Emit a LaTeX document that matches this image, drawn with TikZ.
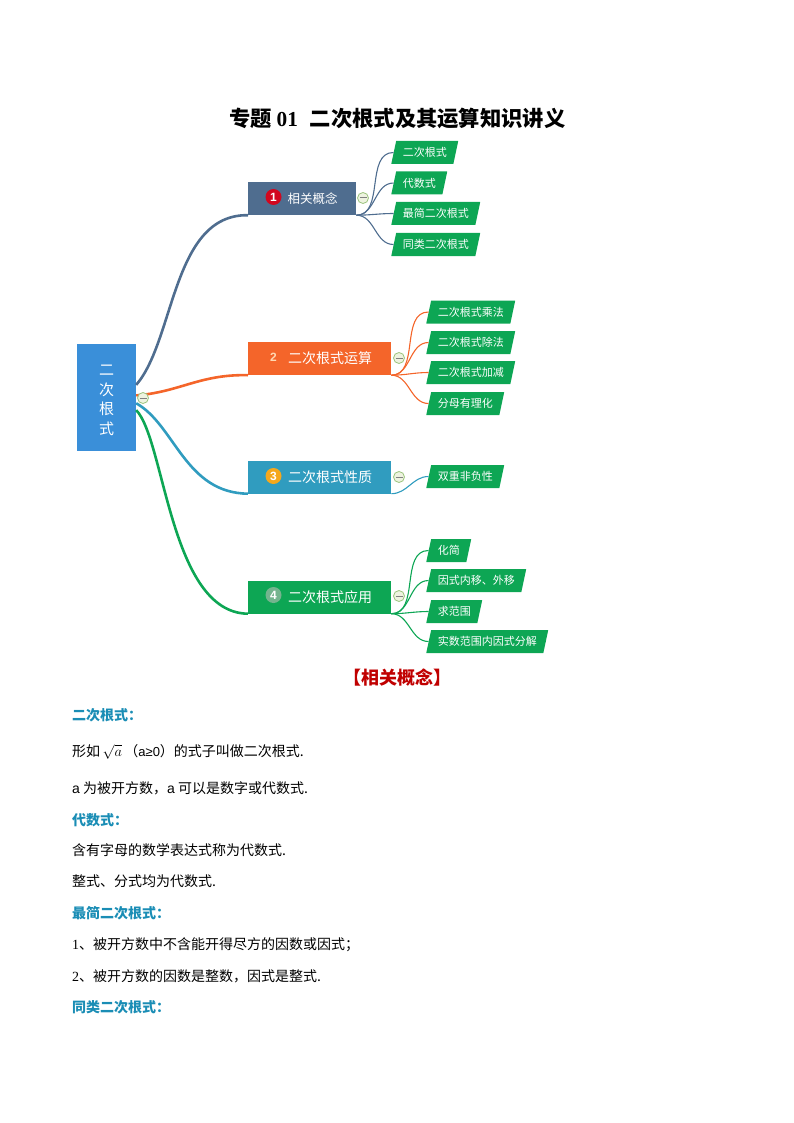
\documentclass[tikz,border=0pt]{standalone}
\usepackage{fontspec}
\usepackage{xcolor}
\setmainfont{Noto Sans CJK SC}
\newfontfamily\latinserif{Liberation Serif}
\newfontfamily\latinsans{Liberation Sans}
\usetikzlibrary{shapes.geometric}
\definecolor{rootblue}{HTML}{3A8FD9}
\definecolor{slateblue}{HTML}{4F6D8F}
\definecolor{flameorange}{HTML}{F4652A}
\definecolor{lakeblue}{HTML}{309CBF}
\definecolor{leafgreen}{HTML}{0DA654}
\definecolor{headteal}{HTML}{1A8DB5}
\definecolor{headred}{HTML}{C00000}
\definecolor{badgered}{HTML}{D2071F}
\definecolor{badgeamber}{HTML}{F5A81C}
\definecolor{badgesage}{HTML}{74B48E}
\definecolor{btnedge}{HTML}{9CC47E}
\definecolor{btnfill}{HTML}{EEF3E0}
\tikzset{
	rootbox/.style = {
		rectangle,
		align = center,
		fill = rootblue,
		text = white,
		minimum width = 59pt,
		minimum height = 107pt,
		font = \fontsize{15}{19.5}\selectfont,
	},
	branchbox/.style = {
		rectangle,
		anchor = west,
		text = white,
		minimum height = 33pt,
		font = \fontsize{14}{16}\selectfont,
	},
	leafbox/.style = {
		trapezium,
		trapezium left angle = 78,
		trapezium right angle = 102,
		anchor = west,
		fill = leafgreen,
		text = white,
		inner xsep = 6.6pt,
		inner ysep = 6.25pt,
		text height = 9.5pt,
		text depth = 1pt,
		font = \fontsize{11}{13}\selectfont,
	},
	badge/.style = {
		circle,
		text = white,
		inner sep = 0pt,
		minimum size = 16pt,
		font = \latinsans\fontsize{12}{14}\selectfont\bfseries,
	},
	collapsebtn/.style = {
		circle,
		draw = btnedge,
		fill = btnfill,
		line width = 0.8pt,
		inner sep = 0pt,
		minimum size = 11pt,
		path picture = {
			\draw[black!50, line width = 1pt] ([xshift = 2pt]path picture bounding box.west) -- ([xshift = -2pt]path picture bounding box.east);
		},
	},
	trunk/.style = {line width = 2.6pt},
	twig/.style = {line width = 1.1pt},
	titleline/.style = {
		anchor = west,
		inner sep = 0pt,
		font = \fontsize{21.3}{25}\selectfont\bfseries,
	},
	headline/.style = {
		anchor = west,
		inner sep = 0pt,
		text = headteal,
		font = \fontsize{14}{17}\selectfont\bfseries,
	},
	bodyline/.style = {
		anchor = west,
		inner sep = 0pt,
		font = \fontsize{14}{17}\selectfont,
	},
}
\begin{document}
\begin{tikzpicture}[x = 1pt, y = -1pt]
	\useasboundingbox (0,0) rectangle (794,1123);

	\node[titleline](title) at (229,118){专题 {\latinserif 01}\hspace{7pt} 二次根式及其运算知识讲义};

	\node[rootbox](root) at (106.5,397.5){\rule{0pt}{16pt}二\\次\\根\\式};

	\node[branchbox, fill = slateblue, minimum width = 108pt, font = \fontsize{12.5}{15}\selectfont](bone) at (248,198.5){\hspace{21pt}相关概念};
	\node[branchbox, fill = flameorange, minimum width = 143pt](btwo) at (248,358.5){\hspace{21pt}二次根式运算};
	\node[branchbox, fill = lakeblue, minimum width = 143pt](bthree) at (248,477){\hspace{21pt}二次根式性质};
	\node[branchbox, fill = leafgreen, minimum width = 143pt](bfour) at (248,597){\hspace{21pt}二次根式应用};

	\node[badge, fill = badgered](bdgone) at (273.5,197){1};
	\node[badge, text = orange!30!white](bdgtwo) at (273.5,357){2};
	\node[badge, fill = badgeamber](bdgthree) at (273.5,476){3};
	\node[badge, fill = badgesage](bdgfour) at (273.5,595){4};

	\node[leafbox](laone) at (393.5,152.5){二次根式};
	\node[leafbox](latwo) at (393.5,183){代数式};
	\node[leafbox](lathree) at (393.5,213.5){最简二次根式};
	\node[leafbox](lafour) at (393.5,244.5){同类二次根式};

	\node[leafbox](lbone) at (428.5,312){二次根式乘法};
	\node[leafbox](lbtwo) at (428.5,342.5){二次根式除法};
	\node[leafbox](lbthree) at (428.5,372.5){二次根式加减};
	\node[leafbox](lbfour) at (428.5,403.5){分母有理化};

	\node[leafbox](lcone) at (428.5,476.5){双重非负性};

	\node[leafbox](ldone) at (428.5,550.5){化简};
	\node[leafbox](ldtwo) at (428.5,580.5){因式内移、外移};
	\node[leafbox](ldthree) at (428.5,611.5){求范围};
	\node[leafbox](ldfour) at (428.5,641.5){实数范围内因式分解};

	\draw[trunk, slateblue](root.23) .. controls (175,340) and (172,214) .. (bone.south west);
	\draw[trunk, flameorange](root.4) .. controls (180,392) and (200,374) .. (btwo.south west);
	\draw[trunk, lakeblue](root.-11) .. controls (175,425) and (185,493) .. (bthree.south west);
	\draw[trunk, leafgreen](root.-23) .. controls (165,440) and (170,613) .. (bfour.south west);

	\foreach \leaf in {laone,latwo,lathree,lafour}
		\draw[twig, slateblue](bone.south east) to[out = 0, in = 180] (\leaf.west);
	\foreach \leaf in {lbone,lbtwo,lbthree,lbfour}
		\draw[twig, flameorange](btwo.south east) to[out = 0, in = 180] (\leaf.west);
	\draw[twig, lakeblue](bthree.south east) to[out = 0, in = 180] (lcone.west);
	\foreach \leaf in {ldone,ldtwo,ldthree,ldfour}
		\draw[twig, leafgreen](bfour.south east) to[out = 0, in = 180] (\leaf.west);

	\node[collapsebtn](btnroot) at (143,398){};
	\node[collapsebtn](btnone) at (363,198){};
	\node[collapsebtn](btntwo) at (399,358){};
	\node[collapsebtn](btnthree) at (399,477){};
	\node[collapsebtn](btnfour) at (399,596){};

	\node[titleline, text = headred, font = \fontsize{18}{21}\selectfont\bfseries](concepts) at (343.5,678){【相关概念】};

	\node[headline](hradical) at (72,715){二次根式：};
	\node[bodyline](lform) at (72,752){形如$\,\sqrt{a}\,$（{\latinsans\fontsize{13}{15}\selectfont a≥0}）的式子叫做二次根式.};
	\node[bodyline](lradicand) at (72,788){{\latinsans a} 为被开方数，{\latinsans a} 可以是数字或代数式.};
	\node[headline](halgebra) at (72,820){代数式：};
	\node[bodyline](lletter) at (72,850){含有字母的数学表达式称为代数式.};
	\node[bodyline](lfraction) at (72,881){整式、分式均为代数式.};
	\node[headline](hsimplest) at (72,913){最简二次根式：};
	\node[bodyline](lno) at (72,945){{\latinserif 1}、被开方数中不含能开得尽方的因数或因式；};
	\node[bodyline](lfactor) at (72,976){{\latinserif 2}、被开方数的因数是整数，因式是整式.};
	\node[headline](hlike) at (72,1007){同类二次根式：};
\end{tikzpicture}
\end{document}
